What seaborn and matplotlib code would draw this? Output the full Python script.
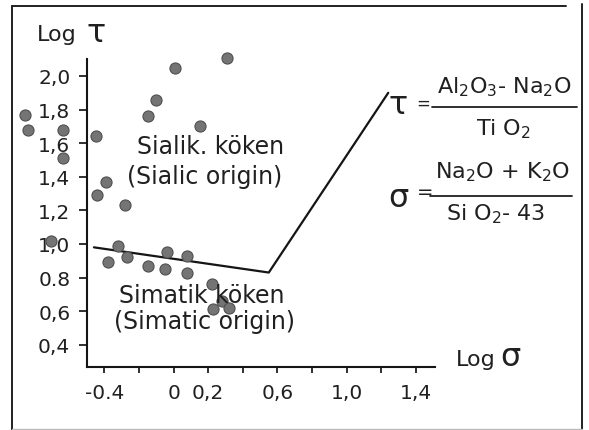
import matplotlib
matplotlib.use("Agg")
import matplotlib.pyplot as plt
import seaborn as sns
import pandas as pd
from matplotlib.lines import Line2D

# Sample positions: log(sigma) vs log(tau)
log_sigma = [-0.86, -0.84, -0.64, -0.64, -0.45, 0.31, 0.01, -0.10, -0.15, 0.15,
             -0.39, -0.44, -0.28, -0.71, -0.32, -0.38, -0.27, -0.15, -0.05, -0.04,
             0.08, 0.08, 0.22, 0.28, 0.23, 0.32]
log_tau = [1.77, 1.68, 1.68, 1.51, 1.64, 2.11, 2.05, 1.86, 1.76, 1.70,
           1.37, 1.29, 1.23, 1.02, 0.99, 0.89, 0.92, 0.87, 0.85, 0.95,
           0.93, 0.83, 0.76, 0.66, 0.61, 0.62]

# Boundary between sialic and simatic fields
boundary_sigma = [-0.46, 0.55, 1.24]
boundary_tau = [0.98, 0.83, 1.90]

y_ticks = [0.4, 0.6, 0.8, 1.0, 1.2, 1.4, 1.6, 1.8, 2.0]
y_tick_labels = ["0,4", "0,6", "0.8", "1,0", "1,2", "1,4", "1,6", "1,8", "2,0"]
x_ticks = [-0.4, -0.2, 0.0, 0.2, 0.4, 0.6, 0.8, 1.0, 1.2, 1.4]
x_tick_labels = ["-0.4", "", "0", "0,2", "", "0,6", "", "1,0", "", "1,4"]

sns.set_theme(style="ticks")
plt.rcParams["font.family"] = ["DejaVu Sans"]
plt.rcParams["mathtext.default"] = "regular"

W, H = 589, 431
fig = plt.figure(figsize=(W / 100, H / 100), dpi=100)
fig.patch.set_facecolor("white")


def fx(x):
    return x / W


def fy(y):
    return 1 - y / H


ax = fig.add_axes([fx(87), fy(367.6), (435 - 87) / W, (367.6 - 60.2) / H])
ax.set_facecolor("white")

df = pd.DataFrame({"log_sigma": log_sigma, "log_tau": log_tau})
sns.scatterplot(data=df, x="log_sigma", y="log_tau", ax=ax, s=64,
                color="#747474", edgecolor="#505050", linewidth=0.8,
                clip_on=False, zorder=3)
sns.lineplot(x=boundary_sigma, y=boundary_tau, sort=False, estimator=None,
             color="#151515", linewidth=1.6, ax=ax, clip_on=False)

ax.set_xlim(-0.5, 1.51)
ax.set_ylim(0.27, 2.10)
ax.set_xticks(x_ticks)
ax.set_xticklabels(x_tick_labels)
ax.set_yticks(y_ticks)
ax.set_yticklabels(y_tick_labels)
ax.set_xlabel("")
ax.set_ylabel("")
for side in ("top", "right"):
    ax.spines[side].set_visible(False)
for side in ("left", "bottom"):
    ax.spines[side].set_linewidth(1.5)
    ax.spines[side].set_color("#151515")
ax.tick_params(axis="y", direction="out", length=6, width=1.3, pad=6,
               labelsize=14.5, colors="#202020")
ax.tick_params(axis="x", direction="out", length=4, width=1.3, pad=8,
               labelsize=14.5, colors="#202020")

txt = dict(color="#202020", va="center")

# Axis titles
fig.text(fx(37), fy(35), "Log", fontsize=16, ha="left", **txt)
fig.text(fx(87), fy(33), "τ", fontsize=23, ha="left", **txt)
fig.text(fx(456), fy(360), "Log", fontsize=16, ha="left", **txt)
fig.text(fx(500), fy(358), "σ", fontsize=23, ha="left", **txt)

# Field names
fig.text(fx(137), fy(147), "Sialik. köken", fontsize=17, ha="left", **txt)
fig.text(fx(127), fy(177), "(Sialic origin)", fontsize=17, ha="left", **txt)
fig.text(fx(119), fy(296), "Simatik köken", fontsize=17, ha="left", **txt)
fig.text(fx(114), fy(322), "(Simatic origin)", fontsize=17, ha="left", **txt)

# Definitions of tau and sigma
fig.text(fx(389), fy(106), "τ", fontsize=23, ha="left", **txt)
fig.text(fx(416), fy(104), "=", fontsize=12, ha="left", **txt)
fig.text(fx(504), fy(87), "Al$_2$O$_3$- Na$_2$O", fontsize=16, ha="center", **txt)
fig.add_artist(Line2D([fx(432), fx(577)], [fy(108), fy(108)], color="#202020", lw=1.3))
fig.text(fx(503), fy(129), "Ti O$_2$", fontsize=16, ha="center", **txt)

fig.text(fx(388), fy(199), "σ", fontsize=23, ha="left", **txt)
fig.text(fx(417), fy(193), "=", fontsize=14, ha="left", **txt)
fig.text(fx(502), fy(172), "Na$_2$O + K$_2$O", fontsize=16, ha="center", **txt)
fig.add_artist(Line2D([fx(430), fx(572)], [fy(197), fy(197)], color="#202020", lw=1.3))
fig.text(fx(496), fy(214), "Si O$_2$- 43", fontsize=16, ha="center", **txt)

# Outer frame
frame = dict(color="#202020", lw=1.4)
fig.add_artist(Line2D([fx(12), fx(12)], [fy(7), fy(431)], **frame))
fig.add_artist(Line2D([fx(12), fx(566)], [fy(7), fy(7)], **frame))
fig.add_artist(Line2D([fx(582), fx(582)], [fy(5), fy(431)], **frame))
fig.add_artist(Line2D([fx(12), fx(582)], [fy(430), fy(430)], color="#bbbbbb", lw=1.0))

fig.savefig("out.png", dpi=100, facecolor="white")
